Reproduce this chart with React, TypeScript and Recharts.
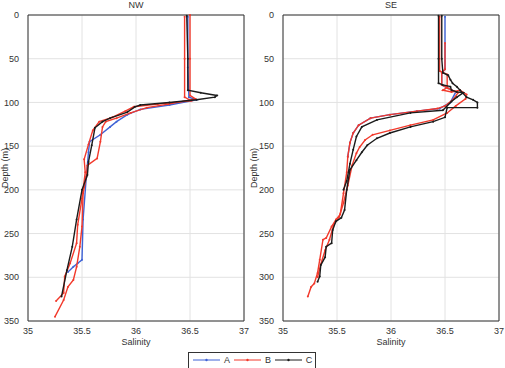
import { CartesianGrid, Label, ReferenceArea, Scatter, ScatterChart, XAxis, YAxis } from "recharts";

type Pt = { s: number; d: number };

const salinityTicks = [35, 35.5, 36, 36.5, 37];
const depthTicks = [0, 50, 100, 150, 200, 250, 300, 350];

// NW profiles (salinity s, depth d in m)
const nwA: Pt[] = [
  { s: 36.48, d: 2 }, { s: 36.48, d: 60 }, { s: 36.49, d: 94 }, { s: 36.56, d: 97 },
  { s: 36.31, d: 103 }, { s: 36.04, d: 108 }, { s: 35.92, d: 114 }, { s: 35.82, d: 122 },
  { s: 35.76, d: 128 }, { s: 35.67, d: 137 }, { s: 35.57, d: 145 }, { s: 35.56, d: 157 },
  { s: 35.54, d: 185 }, { s: 35.51, d: 234 }, { s: 35.5, d: 280 }, { s: 35.46, d: 284 },
  { s: 35.42, d: 288 }, { s: 35.37, d: 294 },
];
const nwB1: Pt[] = [
  { s: 36.5, d: 0 }, { s: 36.5, d: 50 }, { s: 36.5, d: 92 }, { s: 36.55, d: 96 },
  { s: 36.3, d: 102 }, { s: 36.1, d: 106 }, { s: 35.95, d: 112 }, { s: 35.82, d: 118 },
  { s: 35.72, d: 122 }, { s: 35.69, d: 128 }, { s: 35.67, d: 145 }, { s: 35.64, d: 164 },
  { s: 35.55, d: 172 }, { s: 35.54, d: 185 }, { s: 35.51, d: 204 }, { s: 35.5, d: 242 },
  { s: 35.48, d: 265 }, { s: 35.45, d: 288 }, { s: 35.42, d: 303 }, { s: 35.37, d: 311 },
  { s: 35.33, d: 326 }, { s: 35.25, d: 345 },
];
const nwB2: Pt[] = [
  { s: 36.45, d: 2 }, { s: 36.45, d: 50 }, { s: 36.45, d: 94 }, { s: 36.51, d: 98 },
  { s: 36.2, d: 102 }, { s: 35.98, d: 105 }, { s: 35.9, d: 110 }, { s: 35.78, d: 117 },
  { s: 35.66, d: 122 }, { s: 35.6, d: 132 }, { s: 35.56, d: 148 }, { s: 35.52, d: 165 },
  { s: 35.53, d: 180 }, { s: 35.5, d: 210 }, { s: 35.46, d: 240 }, { s: 35.45, d: 261 },
  { s: 35.39, d: 284 }, { s: 35.34, d: 299 }, { s: 35.33, d: 318 }, { s: 35.26, d: 327 },
];
const nwC: Pt[] = [
  { s: 36.47, d: 1 }, { s: 36.48, d: 50 }, { s: 36.48, d: 86 }, { s: 36.6, d: 89 },
  { s: 36.75, d: 92 }, { s: 36.73, d: 94 }, { s: 36.56, d: 97 }, { s: 36.31, d: 100 },
  { s: 36.04, d: 103 }, { s: 35.99, d: 105 }, { s: 35.92, d: 111 }, { s: 35.76, d: 118 },
  { s: 35.69, d: 122 }, { s: 35.62, d: 129 }, { s: 35.59, d: 149 }, { s: 35.56, d: 168 },
  { s: 35.55, d: 183 }, { s: 35.5, d: 200 }, { s: 35.45, d: 234 }, { s: 35.41, d: 265 },
  { s: 35.36, d: 292 }, { s: 35.31, d: 322 },
];

// SE profiles
const seA: Pt[] = [
  { s: 36.5, d: 2 }, { s: 36.5, d: 62 }, { s: 36.47, d: 66 }, { s: 36.47, d: 80 },
  { s: 36.6, d: 88 }, { s: 36.55, d: 100 }, { s: 36.45, d: 107 }, { s: 36.24, d: 110 },
  { s: 35.99, d: 114 }, { s: 35.81, d: 118 }, { s: 35.7, d: 126 }, { s: 35.65, d: 135 },
  { s: 35.62, d: 146 }, { s: 35.6, d: 162 },
];
const seB1: Pt[] = [
  { s: 36.5, d: 32 }, { s: 36.5, d: 62 }, { s: 36.47, d: 66 }, { s: 36.47, d: 80 },
  { s: 36.53, d: 84 }, { s: 36.62, d: 89 }, { s: 36.58, d: 96 }, { s: 36.5, d: 104 },
  { s: 36.43, d: 107 }, { s: 36.24, d: 110 }, { s: 35.99, d: 114 }, { s: 35.81, d: 118 },
  { s: 35.7, d: 126 }, { s: 35.65, d: 135 }, { s: 35.62, d: 146 }, { s: 35.6, d: 162 },
  { s: 35.59, d: 180 }, { s: 35.56, d: 204 }, { s: 35.53, d: 228 }, { s: 35.49, d: 234 },
  { s: 35.45, d: 242 }, { s: 35.4, d: 255 }, { s: 35.37, d: 257 }, { s: 35.34, d: 280 },
  { s: 35.32, d: 295 }, { s: 35.29, d: 307 }, { s: 35.26, d: 311 }, { s: 35.23, d: 322 },
];
const seB2: Pt[] = [
  { s: 36.45, d: 2 }, { s: 36.45, d: 64 }, { s: 36.52, d: 68 }, { s: 36.52, d: 83 },
  { s: 36.48, d: 86 }, { s: 36.56, d: 88 }, { s: 36.64, d: 86 }, { s: 36.7, d: 91 },
  { s: 36.69, d: 96 }, { s: 36.6, d: 104 }, { s: 36.52, d: 112 }, { s: 36.39, d: 120 },
  { s: 36.18, d: 126 }, { s: 35.99, d: 132 }, { s: 35.83, d: 137 }, { s: 35.76, d: 143 },
  { s: 35.71, d: 151 }, { s: 35.68, d: 158 }, { s: 35.64, d: 172 }, { s: 35.6, d: 195 },
  { s: 35.56, d: 215 }, { s: 35.52, d: 231 }, { s: 35.47, d: 240 }, { s: 35.43, d: 257 },
  { s: 35.39, d: 269 }, { s: 35.35, d: 285 }, { s: 35.32, d: 300 },
];
const seC1: Pt[] = [
  { s: 36.44, d: 1 }, { s: 36.44, d: 50 }, { s: 36.44, d: 78 }, { s: 36.48, d: 80 },
  { s: 36.55, d: 82 }, { s: 36.56, d: 86 }, { s: 36.61, d: 88 }, { s: 36.67, d: 89 },
  { s: 36.61, d: 94 }, { s: 36.56, d: 99 }, { s: 36.48, d: 109 }, { s: 36.18, d: 112 },
  { s: 35.87, d: 120 }, { s: 35.73, d: 128 }, { s: 35.68, d: 139 }, { s: 35.65, d: 154 },
  { s: 35.62, d: 170 }, { s: 35.59, d: 190 }, { s: 35.56, d: 200 },
];
const seC2: Pt[] = [
  { s: 36.47, d: 1 }, { s: 36.47, d: 50 }, { s: 36.48, d: 66 }, { s: 36.53, d: 69 },
  { s: 36.55, d: 74 }, { s: 36.57, d: 78 }, { s: 36.61, d: 82 }, { s: 36.64, d: 86 },
  { s: 36.7, d: 94 }, { s: 36.76, d: 97 }, { s: 36.8, d: 100 }, { s: 36.8, d: 106 },
  { s: 36.52, d: 106 }, { s: 36.5, d: 117 }, { s: 36.39, d: 122 }, { s: 36.18, d: 128 },
  { s: 35.99, d: 135 }, { s: 35.87, d: 141 }, { s: 35.78, d: 149 }, { s: 35.73, d: 157 },
  { s: 35.68, d: 166 }, { s: 35.62, d: 177 }, { s: 35.59, d: 200 }, { s: 35.57, d: 223 },
  { s: 35.54, d: 232 }, { s: 35.49, d: 236 }, { s: 35.46, d: 246 }, { s: 35.45, d: 261 },
  { s: 35.4, d: 265 }, { s: 35.39, d: 277 }, { s: 35.35, d: 286 }, { s: 35.34, d: 299 },
  { s: 35.32, d: 305 },
];

const BLUE = "#3f63d6";
const RED = "#f2392b";
const BLACK = "#1b1b1b";
const FONT = "'Liberation Sans', Arial, sans-serif";
const TEXT = "#333";

const dot = (color: string) => (p: any) => <circle cx={p.cx} cy={p.cy} r={1} fill={color} />;

type Series = { data: Pt[]; color: string };

function Profile({ title, series }: { title: string; series: Series[] }) {
  return (
    <div style={{ position: "relative", width: 250, height: 368 }}>
      <div style={{ position: "absolute", top: 0, left: 28, width: 216, textAlign: "center", fontFamily: FONT, fontSize: 9, color: TEXT }}>{title}</div>
      <ScatterChart width={250} height={368} margin={{ top: 15, right: 6, bottom: 0, left: 0 }}>
        <CartesianGrid stroke="#e2e2e2" strokeWidth={1} />
        <XAxis
          type="number"
          dataKey="s"
          domain={[35, 37]}
          ticks={salinityTicks}
          height={47}
          tickLine={false}
          axisLine={false}
          tick={{ fontSize: 9, fill: TEXT, fontFamily: FONT }}
          tickMargin={1}
        >
          <Label value="Salinity" position="insideBottom" offset={23} style={{ fontSize: 9, fill: TEXT, fontFamily: FONT }} />
        </XAxis>
        <YAxis
          type="number"
          dataKey="d"
          reversed
          domain={[0, 350]}
          ticks={depthTicks}
          width={28}
          tickLine={false}
          axisLine={false}
          tick={{ fontSize: 9, fill: TEXT, fontFamily: FONT }}
          tickMargin={3}
        />
        <ReferenceArea x1={35} x2={37} y1={0} y2={350} fill="none" stroke="#333" strokeWidth={1} ifOverflow="visible" />
        {series.map((sr, i) => (
          <Scatter
            key={i}
            data={sr.data}
            line={{ stroke: sr.color, strokeWidth: 1.4 }}
            lineJointType="linear"
            shape={dot(sr.color)}
            isAnimationActive={false}
          />
        ))}
      </ScatterChart>
    </div>
  );
}

const legendItems = [
  { name: "A", color: BLUE },
  { name: "B", color: RED },
  { name: "C", color: BLACK },
];

// rotated depth titles, one per panel (baseline x in page pixels)
const depthTitleX = [8, 257];

export default function App() {
  return (
    <div style={{ position: "absolute", left: 0, top: 0, width: 505, height: 368, background: "#fff", overflow: "hidden" }}>
      <div style={{ position: "absolute", left: 0, top: 0 }}>
        <Profile
          title="NW"
          series={[
            { data: nwA, color: BLUE },
            { data: nwB1, color: RED },
            { data: nwB2, color: RED },
            { data: nwC, color: BLACK },
          ]}
        />
      </div>
      <div style={{ position: "absolute", left: 255, top: 0 }}>
        <Profile
          title="SE"
          series={[
            { data: seA, color: BLUE },
            { data: seB1, color: RED },
            { data: seB2, color: RED },
            { data: seC1, color: BLACK },
            { data: seC2, color: BLACK },
          ]}
        />
      </div>
      <svg style={{ position: "absolute", left: 0, top: 0, pointerEvents: "none" }} width={505} height={368}>
        {depthTitleX.map((x) => (
          <text key={x} x={0} y={0} transform={`translate(${x},168) rotate(-90)`} textAnchor="middle" fontSize={9} fontFamily={FONT} fill={TEXT}>
            Depth (m)
          </text>
        ))}
      </svg>
      <svg style={{ position: "absolute", left: 188, top: 352 }} width={128} height={20}>
        <rect x={0.5} y={0.5} width={127} height={18} fill="#fff" stroke="#333" />
        {legendItems.map((it, i) => {
          const x0 = 5 + i * 41;
          return (
            <g key={it.name}>
              <line x1={x0} x2={x0 + 27} y1={8} y2={8} stroke={it.color} strokeWidth={1} />
              <circle cx={x0 + 13.5} cy={8} r={1.2} fill={it.color} />
              <text x={x0 + 34} y={11} textAnchor="middle" fontSize={9} fontFamily={FONT} fill={TEXT}>{it.name}</text>
            </g>
          );
        })}
      </svg>
    </div>
  );
}
